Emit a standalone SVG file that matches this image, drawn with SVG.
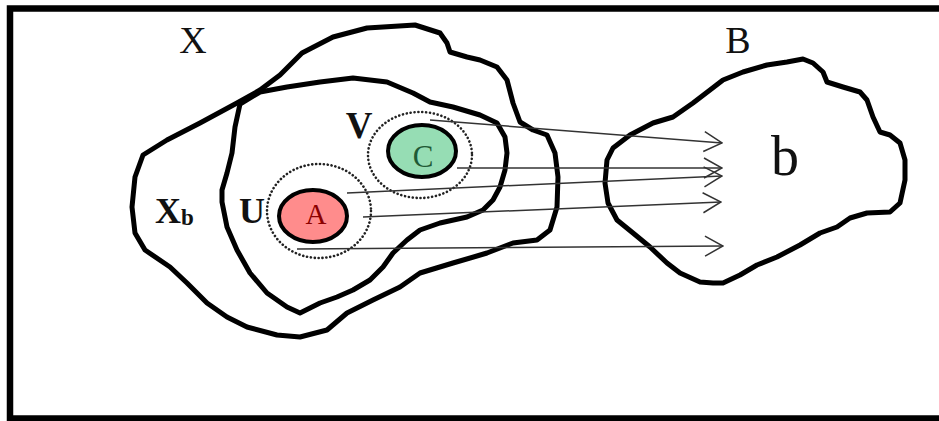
<svg xmlns="http://www.w3.org/2000/svg" width="939" height="421" viewBox="0 0 939 421">
<style>
.blob{fill:none;stroke:#000;stroke-width:5;stroke-linejoin:round;stroke-linecap:round}
.dot{fill:none;stroke:#222;stroke-width:2.6;stroke-dasharray:0.1 3.8;stroke-linecap:round}
.lbl{font-family:"Liberation Serif",serif;fill:#111}
.bold{font-weight:bold}
.conn{fill:none;stroke:#333;stroke-width:1.5}
</style>
<defs>
<marker id="arr" viewBox="0 0 20 22" refX="19" refY="11" markerWidth="20" markerHeight="22" markerUnits="userSpaceOnUse" orient="auto">
<polyline points="1,1 19,11 1,21" fill="none" stroke="#333" stroke-width="1.5"/>
</marker>
</defs>
<rect x="10" y="8.5" width="940" height="410" fill="#fff" stroke="#000" stroke-width="6.5"/>
<g id="X">
<path class="blob" d="M415,25 L367,28 L333,37 L302,53 L280,75 L260,90 L237,103 L200,123 L167,140 L143,155 L135,177 L132,207 L135,233 L145,250 L170,267 L187,283 L207,303 L227,317 L247,327 L277,335 L300,337 L327,330 L347,313 L373,300 L400,287 L420,273 L453,263 L487,253 L513,243 L537,240 L550,230 L557,207 L558,177 L555,153 L547,135 L533,130 L520,122 L513,103 L507,80 L497,67 L480,60 L467,57 L450,52 L447,43 L440,33 Z"/>
<text class="lbl" x="193" y="53" font-size="38" text-anchor="middle">X</text>
</g>
<g id="Xb">
<path class="blob" d="M240,104 L260,92 L287,87 L320,82 L353,78 L387,82 L413,93 L430,102 L453,107 L480,115 L497,123 L505,137 L507,153 L505,170 L500,187 L493,200 L483,210 L467,217 L440,223 L420,230 L407,240 L393,253 L383,267 L370,280 L353,290 L337,297 L320,303 L300,313 L287,307 L267,293 L250,273 L237,250 L227,227 L222,202 L222,190 L227,173 L232,153 L235,127 Z"/>
<text class="lbl bold" x="155" y="223" font-size="36">X<tspan font-size="23" dy="2">b</tspan></text>
</g>
<g id="B">
<path class="blob" d="M803,59 L813,63 L823,72 L827,82 L843,87 L860,92 L867,100 L873,117 L880,132 L890,135 L900,143 L905,160 L905,180 L900,203 L890,212 L867,213 L850,218 L837,227 L820,233 L800,245 L777,257 L757,265 L740,275 L723,283 L713,283 L700,282 L680,273 L667,263 L650,247 L633,233 L617,220 L608,203 L605,183 L607,160 L613,148 L630,135 L653,123 L673,117 L693,103 L710,90 L723,80 L743,72 L767,65 L787,62 Z"/>
<text class="lbl" x="738" y="53" font-size="38" text-anchor="middle">B</text>
<text class="lbl" x="785" y="175" font-size="56" text-anchor="middle">b</text>
</g>
<g id="V">
<ellipse class="dot" cx="420" cy="155" rx="52" ry="43"/>
<text class="lbl bold" x="359" y="138" font-size="37" text-anchor="middle">V</text>
</g>
<g id="C">
<ellipse cx="422" cy="151" rx="34" ry="26" fill="#96DDB4" stroke="#000" stroke-width="4"/>
<text x="423" y="167" font-size="31" text-anchor="middle" font-family="Liberation Serif,serif" fill="#1f5a36">C</text>
</g>
<g id="U">
<ellipse class="dot" cx="319" cy="211" rx="52" ry="47"/>
<text class="lbl bold" x="252" y="223" font-size="36" text-anchor="middle">U</text>
</g>
<g id="A">
<ellipse cx="313" cy="216" rx="34" ry="26" fill="#FF8C8C" stroke="#000" stroke-width="4"/>
<text x="316" y="224" font-size="29" text-anchor="middle" font-family="Liberation Serif,serif" fill="#8b0000">A</text>
</g>
<g id="connectors">
<line class="conn" x1="430" y1="120" x2="722" y2="143" marker-end="url(#arr)"/>
<line class="conn" x1="457" y1="168" x2="722" y2="168" marker-end="url(#arr)"/>
<line class="conn" x1="347" y1="193" x2="722" y2="176" marker-end="url(#arr)"/>
<line class="conn" x1="363" y1="217" x2="721" y2="202" marker-end="url(#arr)"/>
<line class="conn" x1="297" y1="249" x2="723" y2="246" marker-end="url(#arr)"/>
</g>
</svg>
